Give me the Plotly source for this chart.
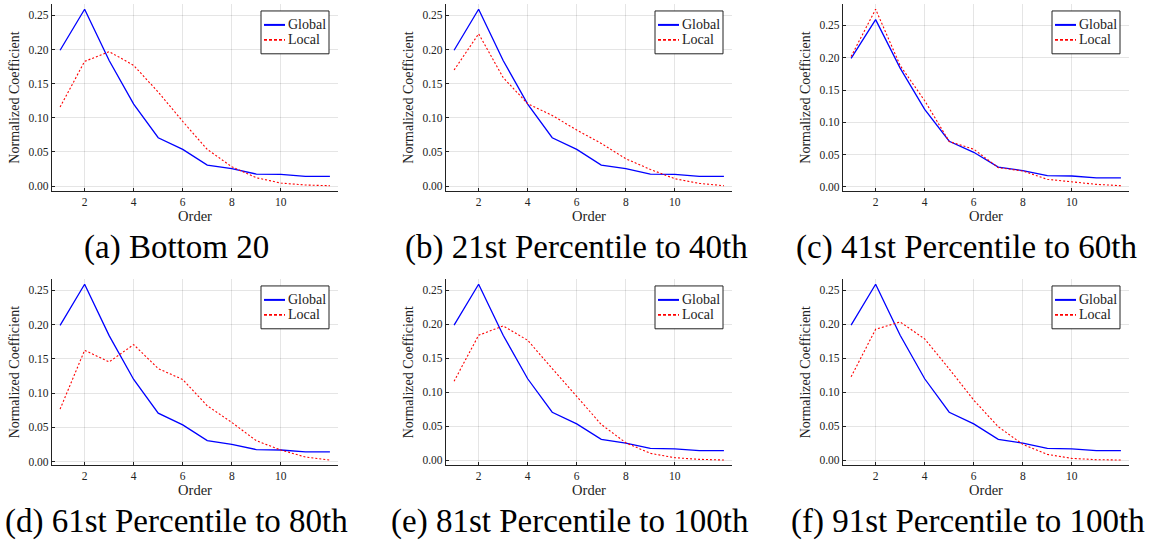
import plotly.graph_objects as go

# ---------------- data ----------------
order = [1, 2, 3, 4, 5, 6, 7, 8, 9, 10, 11, 12]

global_coef = [0.199, 0.259, 0.184, 0.120, 0.0708, 0.0537, 0.0308, 0.0254, 0.0176, 0.0170, 0.0142, 0.0142]

local_a = [0.1157, 0.1826, 0.1970, 0.1768, 0.1377, 0.0947, 0.0537, 0.0283, 0.0122, 0.0044, 0.0015, 0.0005]
local_b = [0.1700, 0.2230, 0.1590, 0.1206, 0.1035, 0.0820, 0.0625, 0.0400, 0.0244, 0.0107, 0.0039, 0.0005]
local_c = [0.2019, 0.2750, 0.1880, 0.1335, 0.0704, 0.0585, 0.0300, 0.0248, 0.0119, 0.0083, 0.0041, 0.0020]
local_d = [0.0767, 0.1626, 0.1456, 0.1709, 0.1359, 0.1199, 0.0816, 0.0573, 0.0306, 0.0170, 0.0068, 0.0024]
local_e = [0.1164, 0.1840, 0.1977, 0.1766, 0.1350, 0.0934, 0.0528, 0.0259, 0.0103, 0.0039, 0.0015, 0.0005]
local_f = [0.1228, 0.1928, 0.2035, 0.1786, 0.1345, 0.0886, 0.0494, 0.0235, 0.0088, 0.0029, 0.0010, 0.0005]

local_series = [local_a, local_b, local_c, local_d, local_e, local_f]

captions = [
    "(a) Bottom 20",
    "(b) 21st Percentile to 40th",
    "(c) 41st Percentile to 60th",
    "(d) 61st Percentile to 80th",
    "(e) 81st Percentile to 100th",
    "(f) 91st Percentile to 100th",
]

x_ticks = [2, 4, 6, 8, 10]
y_ticks = [0.0, 0.05, 0.10, 0.15, 0.20, 0.25]
series_names = ["Global", "Local"]

# ---------------- layout geometry (page pixels) ----------------
W, H = 1160, 547
col_px = [(52, 338), (446, 732), (843, 1129)]
row_px = [(4, 191.7), (280, 467)]
caption_cx = [176, 576, 966, 176, 570, 968]
caption_cy = [248, 523]


def px_x(p):
    return p / W


def px_y(p):
    return 1 - p / H


FONT = "'Liberation Serif', 'Times New Roman', 'DejaVu Serif', serif"
BLUE = "#0000ff"
RED = "#ff0000"

fig = go.Figure()
layout = dict(
    width=W, height=H,
    margin=dict(l=0, r=0, t=0, b=0),
    paper_bgcolor="white", plot_bgcolor="white",
    showlegend=False,
    font=dict(family=FONT, color="black"),
)
annotations = []
shapes = []

for i, loc in enumerate(local_series):
    r, c = divmod(i, 3)
    k = "" if i == 0 else str(i + 1)
    xa, ya = "x" + k, "y" + k
    fig.add_trace(go.Scatter(x=order, y=global_coef, mode="lines", name=series_names[0],
                             line=dict(color=BLUE, width=1.3), xaxis=xa, yaxis=ya))
    fig.add_trace(go.Scatter(x=order, y=loc, mode="lines", name=series_names[1],
                             line=dict(color=RED, width=1.1, dash="2px,2px"), xaxis=xa, yaxis=ya))

    lo = min(min(global_coef), min(loc))
    hi = max(max(global_coef), max(loc))
    pad = 0.03 * (hi - lo)
    xpad = 0.03 * (max(order) - min(order))

    x0, x1 = col_px[c]
    y0, y1 = row_px[r]
    common = dict(showline=True, linecolor="#222", linewidth=1.2, mirror=False,
                  ticks="inside", ticklen=3, tickcolor="#222", tickwidth=1,
                  showgrid=True, gridcolor="rgba(0,0,0,0.1)", gridwidth=1,
                  zeroline=False, tickfont=dict(family=FONT, size=11.5, color="#222"))
    layout["xaxis" + k] = dict(common, domain=[px_x(x0), px_x(x1)], anchor=ya,
                               range=[min(order) - xpad, max(order) + xpad],
                               tickvals=x_ticks,
                               title=dict(text="Order", font=dict(family=FONT, size=14.5, color="#222"), standoff=2))
    layout["yaxis" + k] = dict(common, domain=[px_y(y1), px_y(y0)], anchor=xa,
                               range=[lo - pad, hi + pad],
                               tickvals=y_ticks, tickformat=".2f",
                               title=dict(text="Normalized Coefficient", font=dict(family=FONT, size=14, color="#222"), standoff=5))

    # legend box (manual, in axis-domain coordinates)
    pw, ph = x1 - x0, y1 - y0
    lx0, lx1 = (261 - 52) / pw, (329 - 52) / pw
    ly1, ly0 = 1 - (11 - 4) / ph, 1 - (54 - 4) / ph
    dref = dict(xref=xa + " domain", yref=ya + " domain")
    shapes.append(dict(type="rect", x0=lx0, x1=lx1, y0=ly0, y1=ly1,
                       line=dict(color="#222", width=1), fillcolor="white", layer="above", **dref))
    for j, (col, dash) in enumerate([(BLUE, "solid"), (RED, "3px,2px")]):
        yy = 1 - (25 - 4 + j * 15) / ph
        shapes.append(dict(type="line", x0=(264 - 52) / pw, x1=(285 - 52) / pw, y0=yy, y1=yy,
                           line=dict(color=col, width=2 if j == 0 else 1.6, dash=dash), layer="above", **dref))
        annotations.append(dict(text=series_names[j], x=(286 - 52) / pw, y=yy, xanchor="left", yanchor="middle",
                                showarrow=False, font=dict(family=FONT, size=14, color="#222"), **dref))

    annotations.append(dict(text=captions[i], xref="paper", yref="paper",
                            x=px_x(caption_cx[i]), y=px_y(caption_cy[r]),
                            xanchor="center", yanchor="middle", showarrow=False,
                            font=dict(family=FONT, size=33, color="black")))

layout["annotations"] = annotations
layout["shapes"] = shapes
fig.update_layout(**layout)
fig.write_html("out.html",
               config={"displayModeBar": False},
               post_script="document.body.style.margin='0';document.body.style.overflow='hidden';")
